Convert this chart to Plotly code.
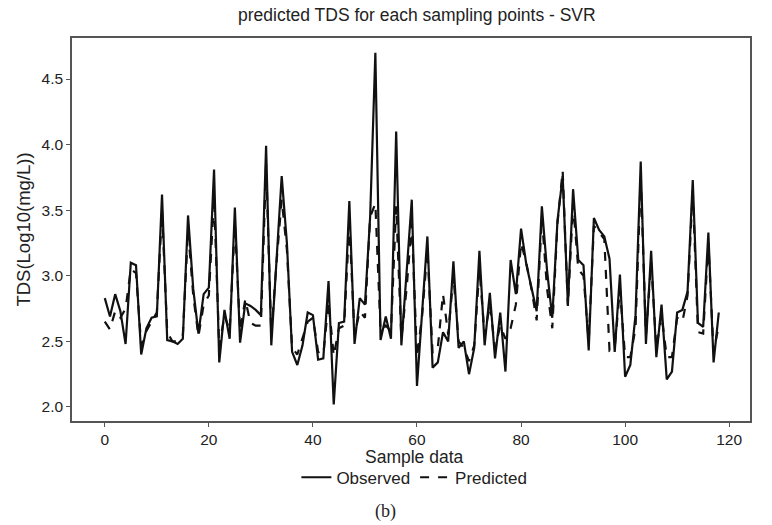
import plotly.graph_objects as go

sample_index = list(range(119))

observed = [
    2.83, 2.69, 2.86, 2.73, 2.48, 3.10, 3.08, 2.40, 2.60, 2.68,
    2.69, 3.62, 2.51, 2.50, 2.48, 2.52, 3.46, 2.90, 2.56, 2.86,
    2.91, 3.81, 2.34, 2.74, 2.52, 3.52, 2.49, 2.79, 2.77, 2.74,
    2.70, 3.99, 2.47, 3.15, 3.76, 3.25, 2.42, 2.32, 2.47, 2.72,
    2.70, 2.36, 2.37, 2.96, 2.02, 2.64, 2.65, 3.57, 2.48, 2.83,
    2.78, 3.45, 4.70, 2.51, 2.69, 2.52, 4.10, 2.47, 3.00, 3.58,
    2.16, 2.73, 3.30, 2.30, 2.34, 2.57, 2.50, 3.11, 2.45, 2.50,
    2.25, 2.45, 3.19, 2.47, 2.87, 2.37, 2.72, 2.27, 3.12, 2.86,
    3.36, 3.09, 2.91, 2.73, 3.53, 3.04, 2.68, 3.42, 3.76, 2.78,
    3.66, 3.12, 3.08, 2.43, 3.44, 3.35, 3.30, 3.13, 2.42, 3.01,
    2.23, 2.32, 2.70, 3.87, 2.48, 3.19, 2.38, 2.78, 2.21, 2.27,
    2.72, 2.74, 2.88, 3.73, 2.64, 2.61, 3.33, 2.34, 2.72,
]

predicted = [
    2.65, 2.59, 2.73, 2.68, 2.75, 3.05, 3.02, 2.47, 2.58, 2.65,
    2.72, 3.50, 2.57, 2.50, 2.50, 2.55, 3.35, 2.85, 2.54, 2.78,
    2.85, 3.60, 2.45, 2.70, 2.58, 3.40, 2.58, 2.82, 2.64, 2.62,
    2.62, 3.85, 2.55, 3.10, 3.58, 3.20, 2.45, 2.40, 2.52, 2.65,
    2.68, 2.42, 2.40, 2.80, 2.39, 2.60, 2.62, 3.40, 2.55, 2.73,
    2.68, 3.45, 3.55, 2.58, 2.62, 2.58, 3.53, 2.52, 2.90, 3.40,
    2.38, 2.70, 3.20, 2.41, 2.45, 2.86, 2.55, 3.00, 2.50, 2.45,
    2.35, 2.47, 3.05, 2.55, 2.78, 2.45, 2.62, 2.52, 2.60, 2.78,
    3.25, 3.10, 2.90, 2.66, 3.45, 2.90, 2.60, 3.40, 3.80, 2.77,
    3.55, 3.05, 3.00, 2.50, 3.38, 3.33, 3.28, 2.43, 2.45, 2.90,
    2.38, 2.38, 2.60, 3.75, 2.55, 3.10, 2.45, 2.70, 2.38, 2.38,
    2.68, 2.65, 2.85, 3.65, 2.57, 2.56, 3.25, 2.42, 2.62,
]

x_ticks = [0, 20, 40, 60, 80, 100, 120]
y_ticks = [2.0, 2.5, 3.0, 3.5, 4.0, 4.5]
y_tick_labels = ["2.0", "2.5", "3.0", "3.5", "4.0", "4.5"]

fig = go.Figure()
fig.add_trace(go.Scatter(
    x=sample_index, y=observed, mode="lines", name="Observed",
    line=dict(color="#111111", width=2.2),
))
fig.add_trace(go.Scatter(
    x=sample_index, y=predicted, mode="lines", name="Predicted",
    line=dict(color="#111111", width=2.2, dash="dash"),
))

axis_common = dict(
    showgrid=False, zeroline=False, showline=True, mirror=True,
    linecolor="#555555", linewidth=1.5,
    ticks="outside", ticklen=4, tickwidth=1, tickcolor="#555555",
    tickfont=dict(family="Liberation Sans, Arial, sans-serif", size=15.5, color="#222222"),
)

fig.update_layout(
    width=772, height=525,
    margin=dict(l=72, r=22, t=38, b=104),
    paper_bgcolor="white", plot_bgcolor="white",
    font=dict(family="Liberation Sans, Arial, sans-serif", color="#222222"),
    title=dict(
        text="predicted TDS for each sampling points - SVR",
        x=0.54, xanchor="center", y=0.972, yanchor="middle",
        font=dict(size=17.5, color="#222222"),
    ),
    xaxis=dict(range=[-6.3, 124.0], tickvals=x_ticks, **axis_common),
    yaxis=dict(range=[1.893, 4.8125], tickvals=y_ticks, ticktext=y_tick_labels,
               title=dict(text="TDS(Log10(mg/L))", font=dict(size=18.5), standoff=6),
               **axis_common),
    showlegend=True,
    legend=dict(
        orientation="h", x=0.505, xanchor="center", y=-0.148, yanchor="middle",
        font=dict(size=17, color="#222222"), itemwidth=30,
        tracegroupgap=0, bgcolor="rgba(0,0,0,0)",
    ),
    annotations=[
        dict(text="Sample data", xref="paper", yref="paper", x=0.505, y=-0.094,
             xanchor="center", yanchor="middle", showarrow=False,
             font=dict(size=17.5, color="#222222")),
        dict(text="(b)", xref="paper", yref="paper", x=0.462, y=-0.235,
             xanchor="center", yanchor="middle", showarrow=False,
             font=dict(family="Liberation Serif, Times New Roman, serif", size=18, color="#222222")),
    ],
)

fig.write_html("out.html")
